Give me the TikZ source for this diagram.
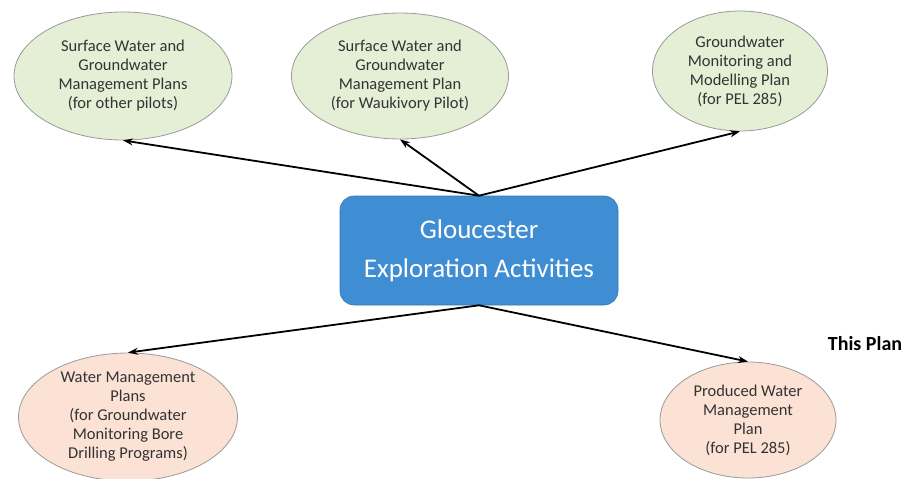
\documentclass[tikz,border=0pt]{standalone}
\usepackage{fontspec}
\setmainfont{Carlito}
\usetikzlibrary{shapes.geometric,arrows.meta}
\definecolor{greenfill}{HTML}{E4EFD6}
\definecolor{peachfill}{HTML}{FBE2D4}
\definecolor{ellborder}{HTML}{9A9A9A}
\definecolor{boxblue}{HTML}{3F8DD2}
\definecolor{txt}{HTML}{333333}
\tikzset{
  ell/.style={ellipse, draw=ellborder, line width=0.8pt, align=center, inner sep=0pt,
    text=txt, font=\fontsize{16.5}{19}\selectfont},
  gell/.style={ell, fill=greenfill},
  pell/.style={ell, fill=peachfill},
  mainbox/.style={rectangle, rounded corners=14pt, fill=boxblue, draw=boxblue!85!black,
    line width=0.6pt, text=white, align=center, font=\fontsize{27}{39}\selectfont},
  conn/.style={-{Stealth[length=10pt,width=7pt]}, line width=1.8pt, black}
}
\begin{document}
\begin{tikzpicture}[x=1pt,y=-1pt]
\useasboundingbox (0,0) rectangle (905,479);
\node[gell, minimum width=218pt, minimum height=128pt] (e1) at (123,76)
  {Surface Water and\\Groundwater\\Management Plans\\(for other pilots)};
\node[gell, minimum width=217pt, minimum height=126pt] (e2) at (400,76)
  {Surface Water and\\Groundwater\\Management Plan\\(for Waukivory Pilot)};
\node[gell, minimum width=175pt, minimum height=120pt] (e3) at (740,71)
  {Groundwater\\Monitoring and\\Modelling Plan\\(for PEL 285)};
\node[pell, minimum width=219pt, minimum height=128pt] (e4) at (128,417)
  {Water Management\\Plans\\(for Groundwater\\Monitoring Bore\\Drilling Programs)};
\node[pell, minimum width=176pt, minimum height=116pt] (e5) at (748,420)
  {Produced Water\\Management\\Plan\\(for PEL 285)};
\node[mainbox, minimum width=278pt, minimum height=109pt] (box) at (479,250.5)
  {Gloucester\\Exploration Activities};
\node[font=\fontsize{20}{22}\selectfont\bfseries, text=black] (lbl) at (865,344) {This Plan};
\draw[conn] (box.north) -- (e1.south);
\draw[conn] (box.north) -- (e2.south);
\draw[conn] (box.north) -- (e3.south);
\draw[conn] (box.south) -- (e4.north);
\draw[conn] (box.south) -- (e5.north);
\end{tikzpicture}
\end{document}
